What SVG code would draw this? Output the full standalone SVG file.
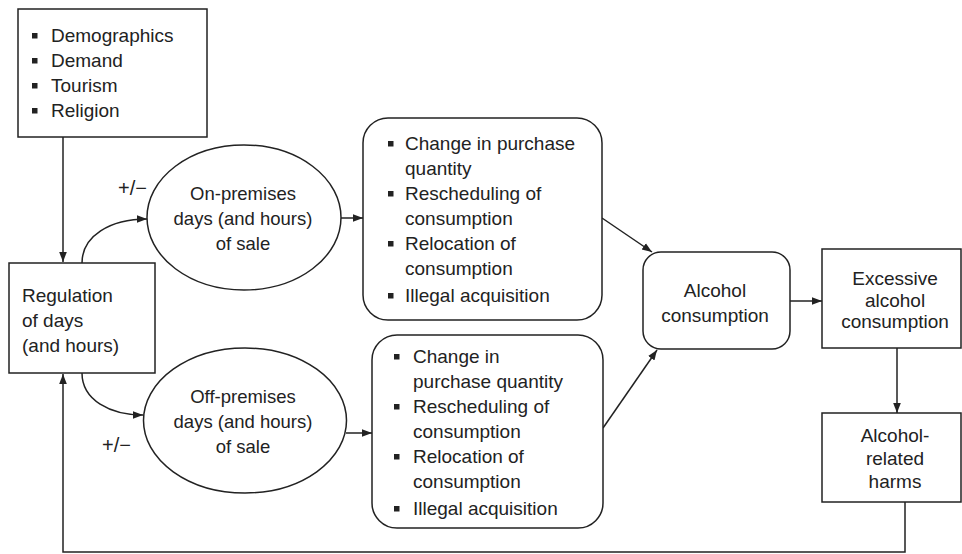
<svg xmlns="http://www.w3.org/2000/svg" width="962" height="554" viewBox="0 0 962 554">
<defs>
<style>
.box{fill:#fff;stroke:#222;stroke-width:1.5}
.ln{fill:none;stroke:#222;stroke-width:1.5}
.t{font-family:"Liberation Sans",Arial,sans-serif;font-size:19px;fill:#222}
.e{font-family:"Liberation Sans",Arial,sans-serif;font-size:18.5px;fill:#222}
.pm{font-family:"Liberation Sans",Arial,sans-serif;font-size:20px;fill:#222}
.c{text-anchor:middle}
.b{fill:#222}
</style>
<marker id="arr" viewBox="0 0 10 10" refX="10" refY="5" markerWidth="10" markerHeight="10" markerUnits="userSpaceOnUse" orient="auto">
<path d="M0,1.2 L10,5 L0,8.8 Z" fill="#222"/>
</marker>
</defs>
<rect width="962" height="554" fill="#fff"/>
<g id="connectors">
<path class="ln" d="M63,137 V262" marker-end="url(#arr)"/>
<path class="ln" d="M82,263 C82,236 110,219 147,219" marker-end="url(#arr)"/>
<path class="ln" d="M82,373 C82,400 110,415 143,415" marker-end="url(#arr)"/>
<path class="ln" d="M341,218 H363" marker-end="url(#arr)"/>
<path class="ln" d="M346,433 H372" marker-end="url(#arr)"/>
<path class="ln" d="M602,218 L652,252" marker-end="url(#arr)"/>
<path class="ln" d="M603,428 L657,350" marker-end="url(#arr)"/>
<path class="ln" d="M790,301 H822" marker-end="url(#arr)"/>
<path class="ln" d="M897,348 V413" marker-end="url(#arr)"/>
<path class="ln" d="M905,502 V552 H63 V374" marker-end="url(#arr)"/>
<text class="pm" x="118" y="195">+/−</text>
<text class="pm" x="102" y="452">+/−</text>
</g>
<g id="factors">
<rect class="box" x="18" y="9" width="189" height="128"/>
<rect class="b" x="32" y="33" width="5.5" height="5.5"/>
<rect class="b" x="32" y="58" width="5.5" height="5.5"/>
<rect class="b" x="32" y="83" width="5.5" height="5.5"/>
<rect class="b" x="32" y="108" width="5.5" height="5.5"/>
<text class="t" x="51" y="42">Demographics</text>
<text class="t" x="51" y="67">Demand</text>
<text class="t" x="51" y="92">Tourism</text>
<text class="t" x="51" y="117">Religion</text>
</g>
<g id="regulation">
<rect class="box" x="9" y="263" width="146" height="110"/>
<text class="t" x="22" y="302">Regulation</text>
<text class="t" x="22" y="327">of days</text>
<text class="t" x="22" y="352">(and hours)</text>
</g>
<g id="on-premises">
<ellipse class="box" cx="244" cy="217.5" rx="97" ry="72.5"/>
<text class="e c" x="243" y="200">On-premises</text>
<text class="e c" x="243" y="225">days (and hours)</text>
<text class="e c" x="243" y="250">of sale</text>
</g>
<g id="off-premises">
<ellipse class="box" cx="245" cy="420.5" rx="101.5" ry="72.5"/>
<text class="e c" x="243" y="403">Off-premises</text>
<text class="e c" x="243" y="428">days (and hours)</text>
<text class="e c" x="243" y="453">of sale</text>
</g>
<g id="on-effects">
<rect class="box" x="363" y="118" width="239" height="202" rx="25" ry="25"/>
<rect class="b" x="388" y="141" width="5.5" height="5.5"/>
<rect class="b" x="388" y="191" width="5.5" height="5.5"/>
<rect class="b" x="388" y="241" width="5.5" height="5.5"/>
<rect class="b" x="388" y="293" width="5.5" height="5.5"/>
<text class="t" x="405" y="150">Change in purchase</text>
<text class="t" x="405" y="175">quantity</text>
<text class="t" x="405" y="200">Rescheduling of</text>
<text class="t" x="405" y="225">consumption</text>
<text class="t" x="405" y="250">Relocation of</text>
<text class="t" x="405" y="275">consumption</text>
<text class="t" x="405" y="302">Illegal acquisition</text>
</g>
<g id="off-effects">
<rect class="box" x="372" y="335" width="231" height="193" rx="25" ry="25"/>
<rect class="b" x="394" y="354" width="5.5" height="5.5"/>
<rect class="b" x="394" y="404" width="5.5" height="5.5"/>
<rect class="b" x="394" y="454" width="5.5" height="5.5"/>
<rect class="b" x="394" y="506" width="5.5" height="5.5"/>
<text class="t" x="413" y="363">Change in</text>
<text class="t" x="413" y="388">purchase quantity</text>
<text class="t" x="413" y="413">Rescheduling of</text>
<text class="t" x="413" y="438">consumption</text>
<text class="t" x="413" y="463">Relocation of</text>
<text class="t" x="413" y="488">consumption</text>
<text class="t" x="413" y="515">Illegal acquisition</text>
</g>
<g id="alcohol-consumption">
<rect class="box" x="643" y="252" width="147" height="97" rx="18" ry="18"/>
<text class="t c" x="715" y="297">Alcohol</text>
<text class="t c" x="715" y="322">consumption</text>
</g>
<g id="excessive">
<rect class="box" x="822" y="249" width="139" height="99"/>
<text class="t c" x="895" y="285">Excessive</text>
<text class="t c" x="895" y="307">alcohol</text>
<text class="t c" x="895" y="328">consumption</text>
</g>
<g id="harms">
<rect class="box" x="822" y="413" width="139" height="89"/>
<text class="t c" x="895" y="442">Alcohol-</text>
<text class="t c" x="895" y="465">related</text>
<text class="t c" x="895" y="488">harms</text>
</g>
</svg>
